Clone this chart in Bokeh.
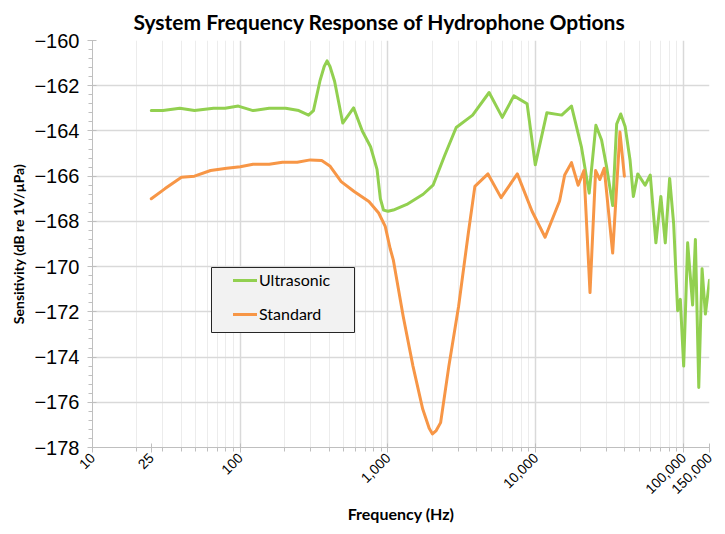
import math
from bokeh.plotting import figure
from bokeh.models import FixedTicker, Legend, LegendItem, NumeralTickFormatter, BoxAnnotation
from bokeh.embed import file_html
from bokeh.resources import INLINE

# ---------------- data ----------------
ultrasonic_freq = [25, 30, 39, 49, 66, 79, 97, 122, 157, 203, 249, 290, 313, 346, 370, 387,
                   405, 435, 494, 585, 670, 762, 843, 888, 933, 1000, 1086, 1340, 1730, 2019,
                   2415, 2895, 3740, 4835, 5940, 7110, 8740, 9930, 11890, 14990, 17460, 20370,
                   23000, 25530, 27900, 30200, 33170, 35300, 37600, 40270, 43500, 45800, 49050,
                   55000, 59600, 65050, 70300, 75300, 80600, 85800, 91300, 95200, 100300,
                   106700, 115300, 120400, 126900, 133600, 140700, 150000]
ultrasonic_db = [-163.1, -163.1, -163.0, -163.1, -163.0, -163.0, -162.9, -163.1, -163.0, -163.0,
                 -163.1, -163.3, -163.1, -161.8, -161.15, -160.9, -161.15, -161.8, -163.65,
                 -162.98, -164.0, -164.7, -165.7, -167.0, -167.5, -167.55, -167.5, -167.25,
                 -166.8, -166.4, -165.1, -163.85, -163.3, -162.3, -163.4, -162.45, -162.8,
                 -165.5, -163.2, -163.3, -162.9, -164.7, -166.75, -163.75, -164.4, -165.6,
                 -167.3, -163.7, -163.25, -163.8, -165.3, -166.9, -165.9, -166.4, -165.95,
                 -168.95, -166.9, -168.95, -166.1, -168.1, -171.95, -171.45, -174.4, -168.95,
                 -171.7, -168.8, -175.35, -170.1, -172.1, -170.6]

standard_freq = [25, 31, 40, 49, 63, 81, 100, 122, 157, 193, 243, 298, 356, 404, 482, 590, 743,
                 865, 958, 1034, 1086, 1267, 1476, 1718, 1900, 2000, 2120, 2271, 2582, 3006,
                 3500, 3873, 4750, 5825, 7505, 9440, 11570, 14500, 15700, 17460, 19370, 21200,
                 23300, 25430, 27160, 29080, 33170, 37150, 39800]
standard_db = [-167.0, -166.55, -166.05, -166.0, -165.75, -165.65, -165.58, -165.47, -165.47,
               -165.38, -165.38, -165.28, -165.31, -165.55, -166.24, -166.68, -167.12, -167.63,
               -168.22, -169.2, -169.7, -172.2, -174.4, -176.3, -177.15, -177.4, -177.25,
               -176.9, -174.4, -171.75, -168.5, -166.45, -165.9, -166.95, -165.9, -167.55,
               -168.7, -167.1, -165.95, -165.4, -166.4, -165.75, -171.15, -165.75, -166.15,
               -165.65, -169.4, -164.05, -166.0]

x_tick_values = [10, 25, 100, 1000, 10000, 100000, 150000]
y_tick_values = [-178, -176, -174, -172, -170, -168, -166, -164, -162, -160]

series_names = ["Ultrasonic", "Standard"]
series_colors = ["#92d050", "#f79646"]

# ---------------- figure ----------------
p = figure(width=717, height=526, x_axis_type="log", x_range=(10, 150000), y_range=(-178, -160),
           output_backend="svg", toolbar_location=None,
           min_border_left=92, min_border_right=8, min_border_top=40, min_border_bottom=77,
           background_fill_color="white", border_fill_color="white")
p.outline_line_color = None

p.title.text = "System Frequency Response of Hydrophone Options"
p.title.text_font = "Lato"
p.title.text_font_style = "bold"
p.title.text_font_size = "21px"
p.title.text_color = "#000000"
p.title.align = "left"
p.title.offset = 41
p.title.standoff = 13

# ticks
minor_x = [m * 10 ** d for d in range(1, 6) for m in range(2, 10) if m * 10 ** d <= 150000]
decades = [10, 100, 1000, 10000, 100000]
p.xaxis.ticker = FixedTicker(ticks=x_tick_values, minor_ticks=minor_x)
p.xaxis.formatter = NumeralTickFormatter(format="0,0")
p.xaxis.major_label_orientation = math.pi / 4
p.xaxis.major_label_text_font = "Liberation Sans"
p.xaxis.major_label_text_font_size = "14px"
p.xaxis.major_label_text_color = "#000000"
p.xaxis.major_label_standoff = 3
p.xaxis.axis_label = "Frequency (Hz)"
p.xaxis.axis_label_text_font = "Lato"
p.xaxis.axis_label_text_font_style = "bold"
p.xaxis.axis_label_text_font_size = "16px"
p.xaxis.axis_label_text_color = "#000000"
p.xaxis.axis_label_standoff = 3

p.yaxis.ticker = FixedTicker(ticks=y_tick_values,
                             minor_ticks=[-178 + 0.4 * i for i in range(46)])
p.yaxis.major_label_text_font = "Liberation Sans"
p.yaxis.major_label_text_font_size = "20px"
p.yaxis.major_label_text_color = "#000000"
p.yaxis.major_label_standoff = 8
p.yaxis.axis_label = "Sensitivity (dB re 1V/µPa)"
p.yaxis.axis_label_text_font = "Lato"
p.yaxis.axis_label_text_font_style = "bold"
p.yaxis.axis_label_text_font_size = "14px"
p.yaxis.axis_label_text_color = "#000000"
p.yaxis.axis_label_standoff = 4

for ax in (p.xaxis, p.yaxis):
    ax.axis_line_color = "#bfbfbf"
    ax.axis_line_width = 1
    ax.major_tick_line_color = "#bfbfbf"
    ax.minor_tick_line_color = "#bfbfbf"
    ax.major_tick_out = 5
    ax.major_tick_in = 4
    ax.minor_tick_out = 4
    ax.minor_tick_in = 0

# grids
p.xgrid.ticker = FixedTicker(ticks=decades, minor_ticks=minor_x)
p.xgrid.grid_line_color = "#d9d9d9"
p.xgrid.grid_line_width = 1.5
p.xgrid.minor_grid_line_color = "#ececec"
p.xgrid.minor_grid_line_width = 1
p.ygrid.ticker = FixedTicker(ticks=y_tick_values)
p.ygrid.grid_line_color = "#d9d9d9"
p.ygrid.grid_line_width = 1.5

# lines
r1 = p.line(ultrasonic_freq, ultrasonic_db, line_color=series_colors[0], line_width=3,
            line_join="round", line_cap="round")
r2 = p.line(standard_freq, standard_db, line_color=series_colors[1], line_width=3,
            line_join="round", line_cap="round")

# legend frame (canvas pixels) and legend entries
legend_box = BoxAnnotation(left=211, right=354, top=267, bottom=332,
                           left_units="canvas", right_units="canvas",
                           top_units="canvas", bottom_units="canvas",
                           fill_color="#f2f2f2", fill_alpha=1,
                           line_color="#262626", line_width=1, line_alpha=1)
p.add_layout(legend_box)

legend = Legend(items=[LegendItem(label=series_names[0], renderers=[r1]),
                       LegendItem(label=series_names[1], renderers=[r2])],
                location=(141, 124))
legend.background_fill_alpha = 0
legend.border_line_color = None
legend.label_text_font = "Lato"
legend.label_text_font_size = "16px"
legend.label_text_color = "#000000"
legend.glyph_width = 24
legend.glyph_height = 18
legend.label_height = 18
legend.label_standoff = 2
legend.spacing = 15
legend.padding = 0
legend.margin = 0
p.add_layout(legend, "center")

open("out.html", "w").write(file_html(p, INLINE))
